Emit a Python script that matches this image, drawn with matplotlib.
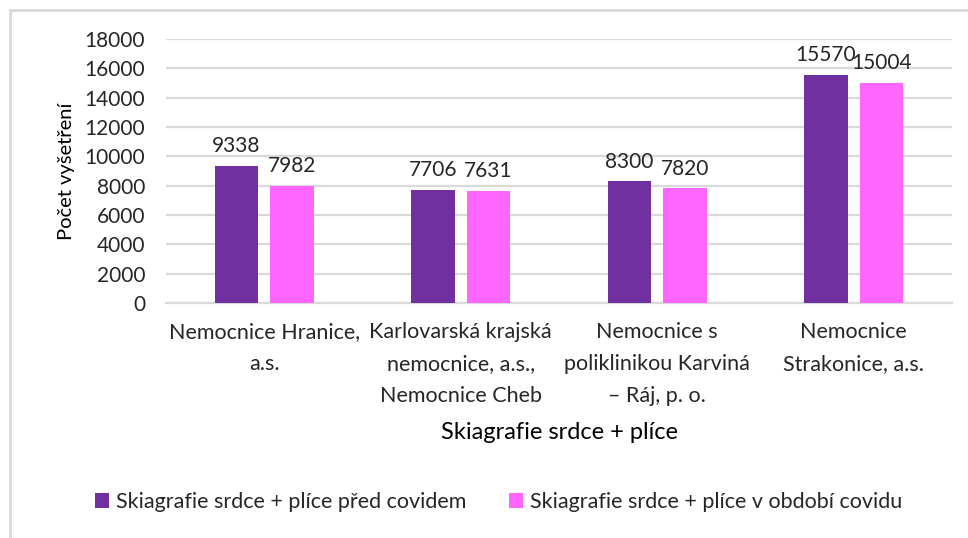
import numpy as np
import matplotlib
matplotlib.use('Agg')
import matplotlib.pyplot as plt
from matplotlib.patches import Rectangle

plt.rcParams['font.family'] = ['Lato', 'DejaVu Sans']

categories = ['Nemocnice Hranice,\na.s.',
              'Karlovarská krajská\nnemocnice, a.s.,\nNemocnice Cheb',
              'Nemocnice s\npoliklinikou Karviná\n– Ráj, p. o.',
              'Nemocnice\nStrakonice, a.s.']
before = [9338, 7706, 8300, 15570]
during = [7982, 7631, 7820, 15004]
series_names = ['Skiagrafie srdce + plíce před covidem',
                'Skiagrafie srdce + plíce v období covidu']
COLORS = ['#7030A0', '#FF66FF']
GRID = '#D9D9D9'
TXT = '#262626'

fig = plt.figure(figsize=(9.68, 5.38), dpi=100)
ax = fig.add_axes([0.1715, 0.4368, 0.812, 0.4907])

x = np.arange(len(categories))
w = 0.223
off = 0.141
b1 = ax.bar(x - off, before, w, color=COLORS[0], label=series_names[0], zorder=3)
b2 = ax.bar(x + off, during, w, color=COLORS[1], label=series_names[1], zorder=3)

for bars in (b1, b2):
    for r in bars:
        ax.annotate(str(int(r.get_height())), (r.get_x() + r.get_width() / 2, r.get_height()),
                    xytext=(0, 7), textcoords='offset points', ha='center', va='bottom',
                    fontsize=15, color=TXT)

ax.set_xlim(-0.5, len(categories) - 0.5)
ax.set_ylim(0, 18000)
ax.set_yticks(np.arange(0, 18001, 2000))
ax.yaxis.grid(True, color=GRID, lw=1.6, zorder=0)
ax.set_axisbelow(True)
for s in ['top', 'right', 'left']:
    ax.spines[s].set_visible(False)
ax.spines['bottom'].set_color(GRID)
ax.spines['bottom'].set_linewidth(1.6)
ax.tick_params(axis='both', length=0, colors=TXT, labelsize=15)
ax.tick_params(axis='y', pad=15)
ax.set_xticks(x)
ax.set_xticklabels(categories, fontsize=15.5, color=TXT, linespacing=1.75)
ax.tick_params(axis='x', pad=14)
ax.set_ylabel('Počet vyšetření', fontsize=14.5, color='black', labelpad=7)
ax.set_xlabel('Skiagrafie srdce + plíce', fontsize=17, color='black', labelpad=11)

fig.legend(loc='center', bbox_to_anchor=(0.515, 0.067), ncol=2, frameon=False,
           fontsize=15.5, handlelength=0.65, handleheight=0.65, handletextpad=0.3,
           columnspacing=2.0, labelcolor=TXT)

fig.patches.append(Rectangle((10 / 968, -0.1), 1.2, 1 - 10 / 538 + 0.1,
                             transform=fig.transFigure, fill=False,
                             edgecolor=GRID, lw=2))

fig.savefig('out.png', dpi=100)
